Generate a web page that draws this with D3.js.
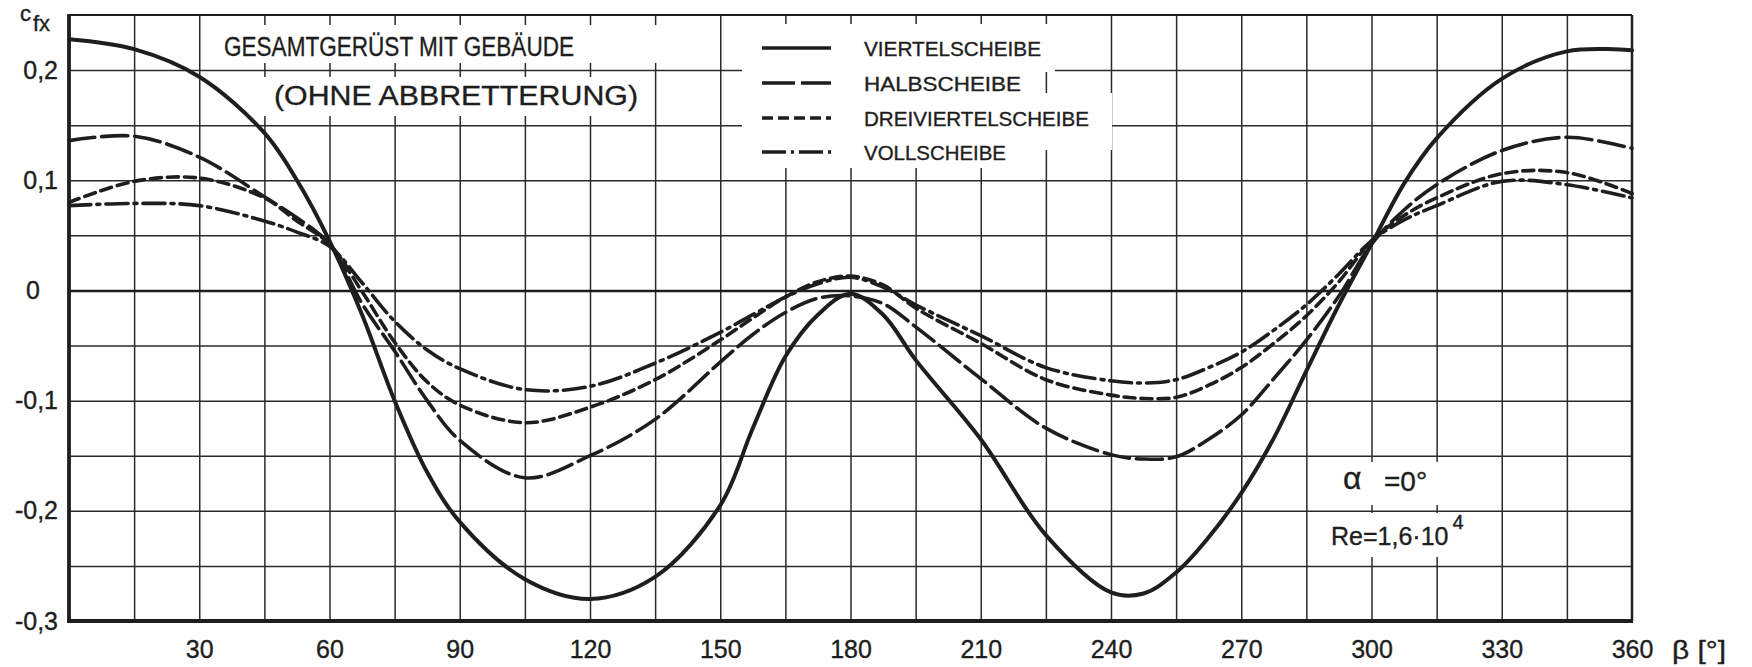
<!DOCTYPE html>
<html>
<head>
<meta charset="utf-8">
<script src="https://cdn.jsdelivr.net/npm/d3@7"></script>
<style>
  body { margin: 0; background: #fff; }
  svg { display: block; }
  text { font-family: "Liberation Sans", Arial, sans-serif; fill: #1e1e1e; stroke: #1e1e1e; stroke-width: 0.35; }
</style>
</head>
<body>
<svg id="chart" width="1752" height="667"></svg>
<script>
// Wind direction beta in degrees
const angles = [0, 15, 30, 45, 52.5, 60, 67.5, 75, 82.5, 90, 105, 120, 135, 150, 157.5, 165, 172.5,
  180, 187.5, 195, 210, 225, 240, 247.5, 255, 262.5, 270, 277.5, 285, 292.5, 300, 307.5, 315, 330, 345, 360];

// Force coefficient c_fx per configuration
const viertelscheibe = [0.228, 0.219, 0.194, 0.143, 0.100, 0.045, -0.022, -0.100, -0.165, -0.210, -0.262, -0.280, -0.260, -0.195, -0.125, -0.060, -0.022,
  -0.003, -0.022, -0.063, -0.135, -0.222, -0.274, -0.275, -0.256, -0.224, -0.184, -0.134, -0.073, -0.013, 0.042, 0.097, 0.138, 0.192, 0.217, 0.218];
const halbscheibe = [0.136, 0.140, 0.121, 0.085, 0.066, 0.042, -0.012, -0.055, -0.100, -0.136, -0.170, -0.150, -0.117, -0.065, -0.040, -0.020, -0.007,
  -0.005, -0.012, -0.033, -0.080, -0.125, -0.149, -0.153, -0.151, -0.135, -0.113, -0.080, -0.045, -0.005, 0.042, 0.073, 0.096, 0.127, 0.139, 0.129];
const dreiviertelscheibe = [0.080, 0.099, 0.102, 0.084, 0.063, 0.042, -0.001, -0.047, -0.083, -0.104, -0.120, -0.106, -0.081, -0.045, -0.025, -0.006, 0.008,
  0.013, 0.005, -0.016, -0.048, -0.081, -0.095, -0.098, -0.097, -0.086, -0.070, -0.048, -0.023, 0.008, 0.045, 0.068, 0.084, 0.106, 0.107, 0.088];
const vollscheibe = [0.077, 0.079, 0.077, 0.063, 0.053, 0.040, 0.007, -0.028, -0.054, -0.071, -0.090, -0.087, -0.066, -0.038, -0.022, -0.006, 0.006,
  0.012, 0.003, -0.013, -0.041, -0.070, -0.082, -0.084, -0.081, -0.070, -0.056, -0.036, -0.013, 0.015, 0.045, 0.064, 0.077, 0.099, 0.096, 0.084];

const seriesNames = ["VIERTELSCHEIBE", "HALBSCHEIBE", "DREIVIERTELSCHEIBE", "VOLLSCHEIBE"];
const xTickLabels = [30, 60, 90, 120, 150, 180, 210, 240, 270, 300, 330, 360];
const yTickLabels = [-0.3, -0.2, -0.1, 0, 0.1, 0.2];
const titleLines = ["GESAMTGERÜST MIT GEBÄUDE", "(OHNE ABBRETTERUNG)"];

const svg = d3.select("#chart");
const plotL = 69, plotR = 1632, plotT = 15, plotB = 621;
const x = d3.scaleLinear().domain([0, 360]).range([plotL, plotR]);
const y = d3.scaleLinear().domain([-0.3, 0.25]).range([plotB, plotT]);
const ink = "#1e1e1e";

svg.append("rect").attr("width", 1752).attr("height", 667).attr("fill", "#fff");

// Grid: every 15 degrees and every 0.05
const gridX = svg.append("g").attr("transform", `translate(0,${plotB})`)
  .call(d3.axisBottom(x).tickValues(d3.range(15, 360, 15)).tickSize(-(plotB - plotT)).tickFormat(""));
const gridY = svg.append("g").attr("transform", `translate(${plotL},0)`)
  .call(d3.axisLeft(y).tickValues(d3.range(-5, 5).map(i => i * 0.05)).tickSize(-(plotR - plotL)).tickFormat(""));
[gridX, gridY].forEach(g => {
  g.select(".domain").remove();
  g.selectAll(".tick line").attr("stroke", "#2b2b2b").attr("stroke-width", 1.5);
});
gridY.selectAll(".tick line").filter(d => Math.abs(d) < 1e-9).attr("stroke-width", 2.4).attr("stroke", ink);

// White label patches on top of the grid
const patches = [
  [215, 25, 665, 63], [250, 77, 648, 116],
  [742, 24, 1055, 72], [742, 72, 1035, 93], [742, 93, 1112, 150], [742, 150, 1035, 168],
  [1336, 462, 1447, 505], [1324, 513, 1474, 557]
];
svg.append("g").selectAll("rect").data(patches).join("rect")
  .attr("x", d => d[0]).attr("y", d => d[1])
  .attr("width", d => d[2] - d[0]).attr("height", d => d[3] - d[1])
  .attr("fill", "#fff");

// Frame
svg.append("line").attr("x1", plotL).attr("x2", plotR).attr("y1", plotT).attr("y2", plotT).attr("stroke", ink).attr("stroke-width", 2);
svg.append("line").attr("x1", plotR).attr("x2", plotR).attr("y1", plotT).attr("y2", plotB).attr("stroke", ink).attr("stroke-width", 2.5);
svg.append("line").attr("x1", plotL).attr("x2", plotL).attr("y1", plotT - 1).attr("y2", plotB + 2).attr("stroke", ink).attr("stroke-width", 3.8);
svg.append("line").attr("x1", plotL - 2).attr("x2", plotR + 1).attr("y1", plotB).attr("y2", plotB).attr("stroke", ink).attr("stroke-width", 3.8);

// Curves
const styles = [
  { values: viertelscheibe, dash: null, width: 4 },
  { values: halbscheibe, dash: "26,7", width: 3.6 },
  { values: dreiviertelscheibe, dash: "11,6", width: 3.6 },
  { values: vollscheibe, dash: "22,6,3,6", width: 3.6 }
];
const line = d3.line().x(d => x(d[0])).y(d => y(d[1])).curve(d3.curveCatmullRom.alpha(0.5));
styles.forEach(s => {
  svg.append("path")
    .datum(angles.map((a, i) => [a, s.values[i]]))
    .attr("d", line)
    .attr("fill", "none")
    .attr("stroke", ink)
    .attr("stroke-width", s.width)
    .attr("stroke-linecap", "round")
    .attr("stroke-dasharray", s.dash);
});

// Axis labels
const yAxis = svg.append("g").attr("transform", `translate(${plotL},0)`)
  .call(d3.axisLeft(y).tickValues(yTickLabels).tickSize(0).tickPadding(11)
    .tickFormat(v => Math.abs(v) < 1e-9 ? "0" : d3.format(".1f")(v).replace(".", ",").replace("\u2212", "-")));
yAxis.select(".domain").remove();
yAxis.selectAll("text").attr("font-size", 25).attr("fill", ink)
  .attr("font-family", "Liberation Sans, Arial, sans-serif")
  .attr("x", d => Math.abs(d) < 1e-9 ? -29 : -11);

const xAxis = svg.append("g").attr("transform", `translate(0,${plotB})`)
  .call(d3.axisBottom(x).tickValues(xTickLabels).tickSize(0).tickPadding(19).tickFormat(d3.format("d")));
xAxis.select(".domain").remove();
xAxis.selectAll("text").attr("font-size", 25).attr("fill", ink)
  .attr("font-family", "Liberation Sans, Arial, sans-serif");

svg.append("text").attr("x", 1672).attr("y", 659).attr("font-size", 26)
  .attr("textLength", 54).attr("lengthAdjust", "spacingAndGlyphs").text("β [°]");

const cfx = svg.append("text").attr("x", 20).attr("y", 21).attr("font-size", 22);
cfx.append("tspan").text("c");
cfx.append("tspan").attr("dx", 2).attr("dy", 10).attr("font-size", 22).text("fx");

// Title
svg.append("text").attr("x", 224).attr("y", 56).attr("font-size", 27)
  .attr("textLength", 350).attr("lengthAdjust", "spacingAndGlyphs").text(titleLines[0]);
svg.append("text").attr("x", 274).attr("y", 105).attr("font-size", 27)
  .attr("textLength", 364).attr("lengthAdjust", "spacingAndGlyphs").text(titleLines[1]);

// Legend
const legendRowY = [48, 83, 118, 152];
const legendTextW = [177, 157, 225, 142];
const legendDash = [null, "33,6", "11,5", "24,5,3,5"];
const lg = svg.append("g");
seriesNames.forEach((name, i) => {
  lg.append("line").attr("x1", 762).attr("x2", 831)
    .attr("y1", legendRowY[i]).attr("y2", legendRowY[i])
    .attr("stroke", ink).attr("stroke-width", 3.6)
    .attr("stroke-dasharray", legendDash[i]);
  lg.append("text").attr("x", 864).attr("y", legendRowY[i] + 7.5)
    .attr("font-size", 21).attr("textLength", legendTextW[i]).attr("lengthAdjust", "spacingAndGlyphs")
    .text(name);
});

// Flow conditions
const alphaText = svg.append("text").attr("x", 1343).attr("y", 489);
alphaText.append("tspan").attr("font-size", 32).text("α");
alphaText.append("tspan").attr("x", 1384).attr("dy", 2).attr("font-size", 28).text("=0°");
const reText = svg.append("text").attr("x", 1331).attr("y", 545).attr("font-size", 25);
reText.append("tspan").text("Re=1,6·10");
reText.append("tspan").attr("dx", 4).attr("dy", -16).attr("font-size", 20).text("4");
</script>
</body>
</html>
